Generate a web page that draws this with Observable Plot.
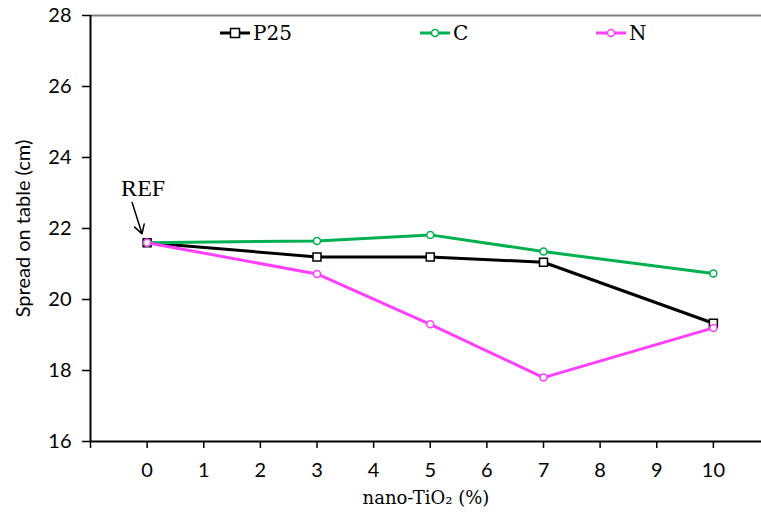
<!DOCTYPE html>
<html>
<head>
<meta charset="utf-8">
<script src="https://cdn.jsdelivr.net/npm/d3@7"></script>
<script src="https://cdn.jsdelivr.net/npm/@observablehq/plot@0.6"></script>
<style>
  html, body { margin: 0; padding: 0; background: #fff; }
  #wrap { position: relative; width: 761px; height: 513px; }
  #wrap svg g[aria-label$="tick label"] text { font-family: Lato, sans-serif !important; font-size: 20px !important; }
  #wrap svg g[aria-label="y-axis label"] text { font-family: Lato, sans-serif !important; font-size: 20px !important; }
  #wrap svg g[aria-label="x-axis label"] text { font-family: "DejaVu Serif", serif !important; font-size: 18px !important; }
  .leg { position: absolute; top: 23px; display: flex; align-items: center; font-family: "DejaVu Serif", serif; font-size: 20px; color: #000; line-height: 20px; }
  .leg svg { margin-right: 3px; }
</style>
</head>
<body>
<div id="wrap"></div>
<script>
const dosages = [0, 3, 5, 7, 10];
const p25 = [21.6, 21.2, 21.2, 21.05, 19.33];
const cSeries = [21.6, 21.65, 21.82, 21.35, 20.73];
const nSeries = [21.6, 20.72, 19.3, 17.8, 19.2];
const seriesNames = ["P25", "C", "N"];
const seriesColors = ["#000000", "#00b050", "#ff40ff"];
const seriesSymbols = ["square", "circle", "circle"];
const xTicks = [-1, 0, 1, 2, 3, 4, 5, 6, 7, 8, 9, 10];
const yTicks = [16, 18, 20, 22, 24, 26, 28];
const refLabel = [{x: 0, y: 21.6, text: "REF"}];

const allValues = [p25, cSeries, nSeries];
const rows = [];
seriesNames.forEach((s, i) => dosages.forEach((d, j) => rows.push({series: s, x: d, y: allValues[i][j]})));

const marks = [
  Plot.ruleY([28], {stroke: "#808080", strokeWidth: 2}),
  Plot.axisY({ticks: yTicks, tickSize: 8, tickPadding: 11, fontSize: 20, strokeWidth: 1.5,
    label: "Spread on table (cm)", labelAnchor: "center", labelArrow: "none", labelOffset: 75}),
  Plot.axisX({ticks: xTicks, tickSize: 7, tickPadding: 14, fontSize: 20, strokeWidth: 1.5,
    tickFormat: d => d < 0 ? "" : String(d),
    label: "nano-TiO₂ (%)", labelAnchor: "center", labelArrow: "none", labelOffset: 62}),
  Plot.ruleX([-1], {stroke: "#000", strokeWidth: 2}),
  Plot.ruleY([16], {stroke: "#000", strokeWidth: 2})
];
seriesNames.forEach((s, i) => {
  const d = rows.filter(r => r.series === s);
  marks.push(Plot.line(d, {x: "x", y: "y", stroke: seriesColors[i], strokeWidth: 3}));
  marks.push(Plot.dot(d, {x: "x", y: "y", symbol: seriesSymbols[i], r: seriesSymbols[i] === "square" ? 4.5 : 3.5,
    fill: "#fff", stroke: seriesColors[i], strokeWidth: 1.5}));
});
marks.push(Plot.text(refLabel, {x: "x", y: "y", text: "text", dx: -4, dy: -54, fontSize: 24,
  fontFamily: "Liberation Serif, serif", fill: "#000"}));
marks.push(Plot.arrow(refLabel, {x1: d => d.x - 0.265, y1: d => d.y + 1.13, x2: d => d.x - 0.09, y2: d => d.y + 0.25,
  stroke: "#000", strokeWidth: 1.5, headLength: 10}));

const chart = Plot.plot({
  width: 761,
  height: 513,
  marginLeft: 90,
  marginRight: 0,
  marginTop: 15,
  marginBottom: 72,
  x: {domain: [-1, 10.85]},
  y: {domain: [16, 28]},
  style: {fontFamily: "Lato, sans-serif", fontSize: "18px", color: "#000", background: "#fff"},
  marks
});
const wrap = document.getElementById("wrap");
wrap.appendChild(chart);

const legLeft = [220, 420, 596];
seriesNames.forEach((s, i) => {
  const div = document.createElement("div");
  div.className = "leg";
  div.style.left = legLeft[i] + "px";
  const shape = seriesSymbols[i] === "square"
    ? `<rect x="10.5" y="3.5" width="9" height="9" fill="#fff" stroke="${seriesColors[i]}" stroke-width="1.5"/>`
    : `<circle cx="15" cy="8" r="3.5" fill="#fff" stroke="${seriesColors[i]}" stroke-width="1.5"/>`;
  div.innerHTML = `<svg width="30" height="16"><line x1="0" x2="30" y1="8" y2="8" stroke="${seriesColors[i]}" stroke-width="3"/>${shape}</svg><span>${s}</span>`;
  wrap.appendChild(div);
});
</script>
</body>
</html>
